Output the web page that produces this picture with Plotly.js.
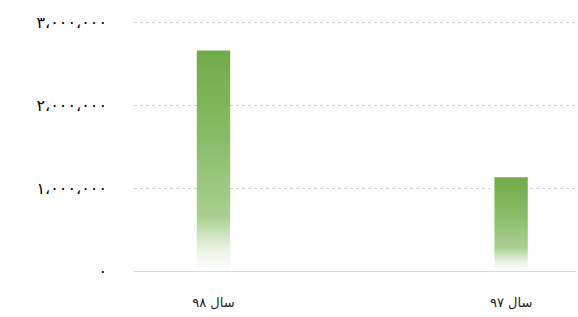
<!DOCTYPE html>
<html><head><meta charset="utf-8">
<script src="https://cdn.plot.ly/plotly-3.0.1.min.js"></script>
<style>html,body{margin:0;padding:0;background:#fff}#c{width:578px;height:317px}</style>
</head><body><div id="c"></div>
<script>
const categories = ["سال ۹۸", "سال ۹۷"];
const values = [2660000, 1130000];
const yTickVals = [0, 1000000, 2000000, 3000000];
const yTickText = ["۰", "۱،۰۰۰،۰۰۰", "۲،۰۰۰،۰۰۰", "۳،۰۰۰،۰۰۰"];

const halfW = 0.056;
const grad = [[0, '#ffffff'], [0.1, '#eaf3e4'], [0.25, '#a9cf90'], [0.6, '#88bd67'], [1, '#70ab47']];
const traces = values.map((v, i) => ({
  type: 'scatter', mode: 'lines',
  x: [i - halfW, i + halfW, i + halfW, i - halfW, i - halfW],
  y: [0, 0, v, v, 0],
  fill: 'toself',
  line: {width: 0, color: 'rgba(0,0,0,0)'},
  fillgradient: {type: 'vertical', start: 0, stop: v, colorscale: grad},
  hoverinfo: 'skip', showlegend: false
}));

const layout = {
  width: 578, height: 317,
  margin: {l: 134, r: 2, t: 19, b: 46},
  paper_bgcolor: '#fff', plot_bgcolor: '#fff',
  font: {family: 'DejaVu Sans, sans-serif', size: 12, color: '#000'},
  xaxis: {
    range: [-0.267, 1.218], tickvals: categories.map((c, i) => i), ticktext: categories,
    showgrid: false, zeroline: false, showline: true, linecolor: '#d9d9d9', linewidth: 1,
    ticks: '', ticklabelstandoff: 19,
    tickfont: {size: 13, family: 'DejaVu Sans, sans-serif', color: '#222'}, fixedrange: true
  },
  yaxis: {
    range: [0, 3040000], tickvals: yTickVals, ticktext: yTickText,
    showgrid: true, gridcolor: '#d3d3d3', griddash: 'dot', gridwidth: 1,
    zeroline: false, showline: false, ticks: '', ticklabelstandoff: 26,
    tickfont: {size: 16, family: 'DejaVu Sans, sans-serif'}, fixedrange: true
  }
};
Plotly.newPlot('c', traces, layout, {displayModeBar: false, staticPlot: true});
</script></body></html>
